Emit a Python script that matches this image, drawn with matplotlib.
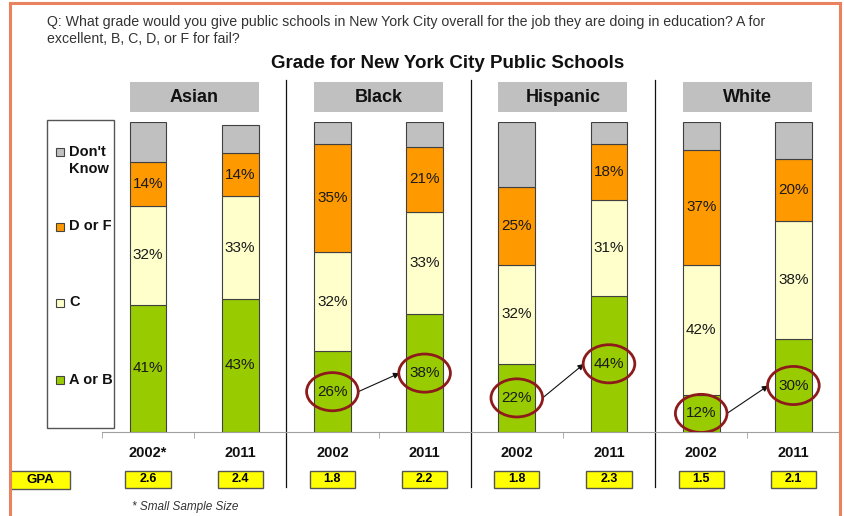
import matplotlib

matplotlib.use("Agg")
import matplotlib.pyplot as plt
import numpy as np
from matplotlib.patches import Ellipse, Rectangle
from matplotlib.transforms import blended_transform_factory

groups = ["Asian", "Black", "Hispanic", "White"]
years = ["2002*", "2011", "2002", "2011", "2002", "2011", "2002", "2011"]
a_or_b = [41, 43, 26, 38, 22, 44, 12, 30]
grade_c = [32, 33, 32, 33, 32, 31, 42, 38]
d_or_f = [14, 14, 35, 21, 25, 18, 37, 20]
dont_know = [13, 9, 7, 8, 21, 7, 9, 12]
gpa = ["2.6", "2.4", "1.8", "2.2", "1.8", "2.3", "1.5", "2.1"]
circled = [2, 3, 4, 5, 6, 7]

series = [
    ("A or B", a_or_b, "#99cc00", True),
    ("C", grade_c, "#ffffcc", True),
    ("D or F", d_or_f, "#ff9900", True),
    ("Don't\nKnow", dont_know, "#c0c0c0", False),
]

plt.rcParams["font.family"] = ["Liberation Sans", "DejaVu Sans"]
NARROW = ["Liberation Sans Narrow", "Liberation Sans", "DejaVu Sans"]

W, H = 845, 516
fig = plt.figure(figsize=(W / 100, H / 100), dpi=100)


def fx(px):
    return px / W


def fy(py):
    return 1 - py / H


# salmon frame around the slide
for xs, ys in [((10, 10), (3, 516)), ((10, 840), (3, 3)), ((840, 840), (3, 516))]:
    fig.add_artist(plt.Line2D([fx(x) for x in xs], [fy(y) for y in ys],
                              color="#e9825f", lw=2.2))

fig.text(fx(47), fy(22), "Q: What grade would you give public schools in New York City "
         "overall for the job they are doing in education? A for",
         fontsize=10.2, color="#333333", va="center", family=NARROW)
fig.text(fx(47), fy(39), "excellent, B, C, D, or F for fail?",
         fontsize=10.2, color="#333333", va="center", family=NARROW)
fig.text(fx(448), fy(63), "Grade for New York City Public Schools",
         fontsize=13.5, fontweight="bold", ha="center", va="center", color="#111111")

ax = fig.add_axes([fx(101.9), (H - 432) / H, 737.6 / W, 310 / H])
x = np.arange(len(years))
bottom = np.zeros(len(years))
for name, vals, color, labelled in series:
    vals = np.array(vals, dtype=float)
    ax.bar(x, vals, 0.40, bottom=bottom, color=color, edgecolor="#404040", linewidth=0.8)
    if labelled:
        for xi, b, v in zip(x, bottom, vals):
            ax.text(xi, b + v / 2, f"{int(v)}%", ha="center", va="center",
                    fontsize=11, color="#1a1a1a")
    bottom += vals

ax.set_xlim(-0.5, 7.5)
ax.set_ylim(0, 100)
for side in ["left", "right", "top"]:
    ax.spines[side].set_visible(False)
ax.spines["bottom"].set_color("#a0a0a0")
ax.set_yticks([])
ax.set_xticks(x, years, fontsize=10.5, fontweight="bold")
ax.set_xticks(np.arange(-0.5, 8, 1.0), minor=True)
ax.tick_params(axis="x", which="major", length=0, pad=10, colors="#111111")
ax.tick_params(axis="x", which="minor", length=4.3, color="#a0a0a0")

# circles on the A/B share and arrows showing the change
for i in circled:
    ax.add_patch(Ellipse((i, a_or_b[i] / 2), 0.56, 12.3, fill=False,
                         edgecolor="#8e1b1b", lw=2.0, zorder=5))
for i in circled[::2]:
    ax.annotate("", xy=(i + 1 - 0.27, a_or_b[i + 1] / 2), xytext=(i + 0.28, a_or_b[i] / 2),
                arrowprops=dict(arrowstyle="-|>", color="#111111", lw=0.8,
                                shrinkA=0, shrinkB=0, mutation_scale=9))

# group separators and header boxes
xtrans = ax.get_xaxis_transform()
for sep in [1.5, 3.5, 5.5]:
    ax.plot([sep, sep], [(432 - 487) / 310, (432 - 80) / 310], color="#111111",
            lw=0.9, transform=xtrans, clip_on=False)
for g, name in enumerate(groups):
    left = 2 * g - 0.2
    ax.add_patch(Rectangle((left, (432 - 112) / 310), 1.4, 30 / 310, transform=xtrans,
                           facecolor="#c0c0c0", edgecolor="none", clip_on=False))
    ax.text(2 * g + 0.5, (432 - 97) / 310, name, transform=xtrans, ha="center",
            va="center", fontsize=13, fontweight="bold", color="#111111")

# legend panel
fig.add_artist(Rectangle((fx(47), fy(428)), 67 / W, 308 / H, transform=fig.transFigure,
                         facecolor="white", edgecolor="#555555", lw=1))
legend_y = [380, 303, 227, 152]
for (name, _, color, _), ly in zip(series, legend_y):
    fig.add_artist(Rectangle((fx(56), fy(ly + 4)), 8 / W, 8 / H, transform=fig.transFigure,
                             facecolor=color, edgecolor="#444444", lw=0.8))
    fig.text(fx(69), fy(ly - 7.5), name, fontsize=10.5, fontweight="bold", va="top",
             color="#111111", linespacing=1.3)

# GPA row
fig.add_artist(Rectangle((fx(10), fy(489)), 60 / W, 18 / H, transform=fig.transFigure,
                         facecolor="#ffff00", edgecolor="#555555", lw=1))
fig.text(fx(40), fy(480), "GPA", fontsize=9.5, fontweight="bold", ha="center",
         va="center", family=NARROW)
gtrans = blended_transform_factory(ax.transData, fig.transFigure)
for xi, val in zip(x, gpa):
    fig.add_artist(Rectangle((xi - 0.245, fy(488)), 0.49, 17 / H, transform=gtrans,
                             facecolor="#ffff00", edgecolor="#555555", lw=1))
    fig.text(xi, fy(479.5), val, transform=gtrans, fontsize=9, fontweight="bold",
             ha="center", va="center", family=NARROW)

fig.text(fx(132), fy(507), "* Small Sample Size", fontsize=8.5, style="italic",
         color="#333333", va="center", family=NARROW)

fig.savefig("out.png", dpi=100)
